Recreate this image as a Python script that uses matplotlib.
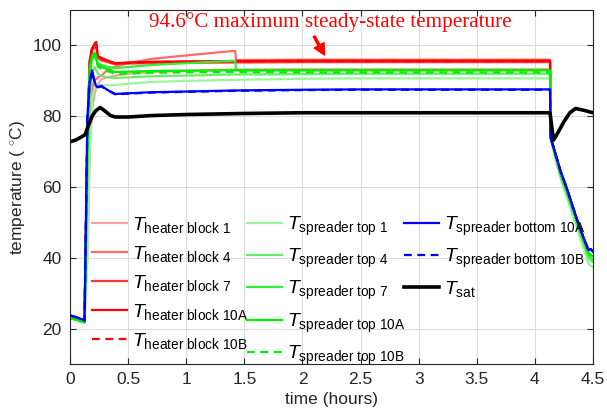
import matplotlib
matplotlib.use("Agg")
import matplotlib.pyplot as plt
from matplotlib.lines import Line2D

plt.rcParams['font.family'] = ['Liberation Sans', 'DejaVu Sans']
plt.rcParams['mathtext.fontset'] = 'custom'
plt.rcParams['mathtext.rm'] = 'Liberation Sans'
plt.rcParams['mathtext.it'] = 'Liberation Sans:italic'
plt.rcParams['mathtext.bf'] = 'Liberation Sans:bold'

# ---- data (time in hours, temperature in deg C) ----
t_main = [0, 0.05, 0.10, 0.125, 0.15, 0.17, 0.19, 0.21, 0.225, 0.24, 0.27, 0.32, 0.39, 0.5, 0.7,
          1.0, 1.42, 1.43, 2.0, 2.5, 3.0, 3.5, 4.0, 4.13, 4.135, 4.18, 4.22, 4.27, 4.32, 4.37,
          4.42, 4.46, 4.48, 4.5]

heater_1 = [23.5, 23.1, 22.5, 22.3, 40, 70, 82, 86, 88, 89, 90.5, 91, 91.5, 92, 92.5,
            92.8, 93.2, 93.2, 93.3, 93.3, 93.3, 93.3, 93.3, 93.3, 74, 69, 64.5, 60, 55, 50,
            45.5, 42.2, 42.4, 41.8]
heater_4 = [23.5, 23.1, 22.5, 22.3, 50, 80, 88, 90, 90.5, 91, 91.5, 93, 94, 95, 96.2,
            97.2, 98.5, 95.9, 96.0, 96.0, 96.0, 96.0, 96.0, 96.0, 74, 69, 64.5, 60, 55, 50,
            45.5, 42.2, 42.4, 41.8]
heater_7 = [23.5, 23.1, 22.5, 22.3, 75, 95, 98.5, 99.5, 99.5, 96.5, 95.8, 95.3, 94.7, 94.9, 95.0,
            95.1, 95.2, 95.2, 95.3, 95.3, 95.3, 95.3, 95.3, 95.3, 74, 69, 64.5, 60, 55, 50,
            45.5, 42.2, 42.4, 41.8]
heater_10A = [23.5, 23.2, 22.5, 22.5, 75, 96, 99, 100.5, 101, 97, 96.5, 95.8, 95.0, 95.2, 95.4,
              95.5, 95.6, 95.6, 95.7, 95.7, 95.7, 95.7, 95.7, 95.7, 74, 69, 64.5, 60, 55, 50,
              45.5, 42.2, 42.5, 41.8]
heater_10B = [23.5, 23.2, 22.5, 22.5, 75, 96, 99.5, 100, 100.5, 97, 96.3, 95.6, 94.9, 95.1, 95.3,
              95.4, 95.5, 95.5, 95.6, 95.6, 95.6, 95.6, 95.6, 95.6, 74, 69, 64.5, 60, 55, 50,
              45.5, 42.2, 42.5, 41.8]

spr_top_1 = [23.0, 22.6, 22.0, 21.8, 40, 70, 85, 88, 88.5, 88.8, 88.8, 88.8, 88.8, 89.2, 89.7,
             90.0, 90.3, 90.3, 90.6, 90.7, 90.7, 90.7, 90.7, 90.7, 73.5, 67.5, 62.5, 57.5, 52.5, 47.5,
             42.5, 38.5, 37.8, 37.5]
spr_top_4 = [23.0, 22.6, 22.0, 21.8, 60, 85, 92, 94, 93, 92, 91.5, 91.0, 90.8, 91.0, 91.3,
             91.5, 91.8, 91.8, 91.9, 92.0, 92.0, 92.0, 92.0, 92.0, 73.5, 68, 63, 58.5, 53.5, 48.5,
             44, 40, 39.2, 38.8]
spr_top_7 = [23.0, 22.6, 22.0, 21.8, 70, 92, 96, 97, 96, 94.8, 94.5, 94.0, 93.6, 93.9, 94.5,
             95.0, 95.7, 93.0, 93.0, 93.0, 93.0, 93.0, 93.0, 93.0, 73.8, 68.5, 63.5, 59, 54, 49,
             44.5, 40.8, 40.0, 39.5]
spr_top_10A = [23.0, 22.6, 22.0, 21.8, 75, 94, 97, 98, 97, 94.5, 94.0, 93.3, 92.5, 92.6, 92.8,
               92.9, 93.0, 93.0, 93.0, 93.0, 93.0, 93.0, 93.0, 93.0, 74, 68.8, 64, 59.5, 54.5, 49.5,
               45, 41.5, 40.8, 40.5]
spr_top_10B = [23.0, 22.6, 22.0, 21.8, 75, 93, 96.5, 97.5, 96.5, 94, 93.5, 92.8, 92.0, 92.1, 92.3,
               92.4, 92.5, 92.5, 92.4, 92.4, 92.4, 92.4, 92.4, 92.4, 74, 68.8, 64, 59.5, 54.5, 49.5,
               45, 41.5, 40.8, 40.5]

spr_bot_10A = [23.8, 23.3, 22.7, 22.3, 80, 90, 93, 90, 88.5, 88.3, 88.6, 87.5, 86.3, 86.5, 86.8,
               87.0, 87.3, 87.3, 87.5, 87.6, 87.6, 87.6, 87.6, 87.6, 74, 69, 64.5, 60, 55, 50,
               45.5, 42.2, 42.5, 41.8]
spr_bot_10B = [23.8, 23.3, 22.7, 22.3, 80, 89.5, 92.5, 90, 88.5, 88.2, 88.4, 87.4, 86.2, 86.4, 86.7,
               86.9, 87.2, 87.2, 87.4, 87.5, 87.5, 87.5, 87.5, 87.5, 74, 69, 64.5, 60, 55, 50,
               45.5, 42.2, 42.5, 41.8]

t_sat = [0, 0.05, 0.10, 0.13, 0.16, 0.19, 0.22, 0.26, 0.30, 0.35, 0.39, 0.5, 0.7, 1.0, 1.5,
         2.0, 2.5, 3.0, 3.5, 4.0, 4.13, 4.145, 4.16, 4.2, 4.25, 4.3, 4.35, 4.42, 4.5]
T_sat = [72.8, 73.3, 74.2, 74.8, 77.5, 80.0, 81.5, 82.5, 81.5, 80.2, 79.8, 79.8, 80.2, 80.5, 80.8,
         81.0, 81.0, 81.0, 81.0, 81.0, 81.0, 77.0, 73.3, 75.5, 78.5, 81.0, 82.2, 81.7, 81.0]

labels = [r'$T_{\mathrm{heater\ block\ 1}}$', r'$T_{\mathrm{heater\ block\ 4}}$',
          r'$T_{\mathrm{heater\ block\ 7}}$', r'$T_{\mathrm{heater\ block\ 10A}}$',
          r'$T_{\mathrm{heater\ block\ 10B}}$',
          r'$T_{\mathrm{spreader\ top\ 1}}$', r'$T_{\mathrm{spreader\ top\ 4}}$',
          r'$T_{\mathrm{spreader\ top\ 7}}$', r'$T_{\mathrm{spreader\ top\ 10A}}$',
          r'$T_{\mathrm{spreader\ top\ 10B}}$',
          r'$T_{\mathrm{spreader\ bottom\ 10A}}$', r'$T_{\mathrm{spreader\ bottom\ 10B}}$',
          r'$T_{\mathrm{sat}}$']
annotation = '94.6\u00b0C maximum steady-state temperature'

fig = plt.figure(figsize=(6.07, 4.20), dpi=100)
ax = fig.add_axes([0.1153, 0.133, 0.8617, 0.843])

lw = 1.6
dash = (0, (3.5, 2.5))
series = [
    (t_main, heater_1, '#ff9c9c', '-', lw),
    (t_main, heater_4, '#ff6a6a', '-', lw),
    (t_main, heater_7, '#ff3838', '-', lw),
    (t_main, heater_10A, '#ff0000', '-', lw),
    (t_main, heater_10B, '#ff0000', dash, lw),
    (t_main, spr_top_1, '#9cf59c', '-', lw),
    (t_main, spr_top_4, '#66f066', '-', lw),
    (t_main, spr_top_7, '#33ee33', '-', lw),
    (t_main, spr_top_10A, '#00ee00', '-', lw),
    (t_main, spr_top_10B, '#00ee00', dash, lw),
    (t_main, spr_bot_10A, '#0000ff', '-', lw),
    (t_main, spr_bot_10B, '#0000ff', dash, lw),
    (t_sat, T_sat, '#000000', '-', 2.6),
]
handles = []
for (tt, yy, c, ls, w), lab in zip(series, labels):
    h, = ax.plot(tt, yy, color=c, ls=ls, lw=w, label=lab)
    handles.append(h)

ax.set_xlim(0, 4.5)
ax.set_ylim(10, 110)
ax.set_xticks([0, 0.5, 1, 1.5, 2, 2.5, 3, 3.5, 4, 4.5])
ax.set_xticklabels(['0', '0.5', '1', '1.5', '2', '2.5', '3', '3.5', '4', '4.5'])
ax.set_yticks([20, 40, 60, 80, 100])
ax.grid(True, color='#dcdcdc', lw=0.8)
ax.set_axisbelow(True)
ax.tick_params(direction='in', length=4, top=True, right=True, colors='#262626',
               labelsize=12.5, pad=6)
for s in ax.spines.values():
    s.set_color('#262626')
    s.set_linewidth(0.8)

ax.set_xlabel('time (hours)', fontsize=12.5, color='#262626', labelpad=3)
ax.set_ylabel(r'temperature ( $^{\circ}$C)', fontsize=12.5, color='#262626', labelpad=4)

blank = Line2D([], [], color='none')
leg_handles = handles + [blank, blank]
leg_labels = labels + ['', '']
leg = ax.legend(leg_handles, leg_labels, ncol=3, loc='lower left', bbox_to_anchor=(0.042, -0.008),
                frameon=False, fontsize=14, handlelength=1.8, handletextpad=0.25,
                labelspacing=0.47, columnspacing=-0.06, borderaxespad=0, borderpad=0)

ax.text(2.24, 106.7, annotation, ha='center', va='center', fontsize=15.2, color='red',
        family='Liberation Serif')
ax.annotate('', xy=(2.19, 97.3), xytext=(2.1, 102.6), textcoords='data',
            arrowprops=dict(facecolor='red', edgecolor='red', width=1.5, headwidth=8,
                            headlength=8, shrink=0.0))

fig.savefig('out.png', dpi=100)
